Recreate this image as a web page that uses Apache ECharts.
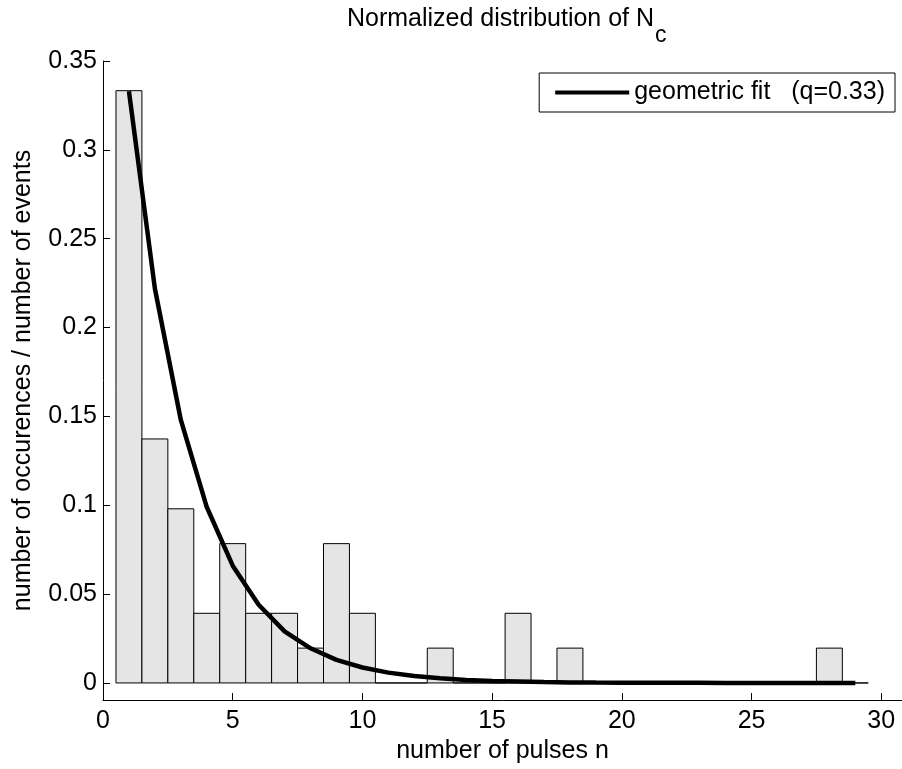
<!DOCTYPE html>
<html>
<head>
<meta charset="utf-8">
<script src="https://cdn.jsdelivr.net/npm/echarts@6/dist/echarts.min.js"></script>
<style>
  html, body { margin: 0; padding: 0; background: #fff; }
  #chart { width: 902px; height: 769px; }
</style>
</head>
<body>
<div id="chart"></div>
<script>
// histogram bins (number of pulses) and normalized counts
var bins = [1, 2, 3, 4, 5, 6, 7, 8, 9, 10, 11, 12, 13, 14, 15, 16, 17, 18, 19, 20, 21, 22, 23, 24, 25, 26, 27, 28, 29];
var counts = [0.3333, 0.1373, 0.0980, 0.0392, 0.0784, 0.0392, 0.0392, 0.0196, 0.0784, 0.0392,
              0, 0, 0.0196, 0, 0, 0.0392, 0, 0.0196, 0, 0,
              0, 0, 0, 0, 0, 0, 0, 0.0196, 0];
// geometric fit curve
var fitX = [1, 2, 3, 4, 5, 6, 7, 8, 9, 10, 11, 12, 13, 14, 15, 16, 17, 18, 19, 20, 21, 22, 23, 24, 25, 26, 27, 28, 29];
var fitY = [0.333, 0.222, 0.148, 0.099, 0.066, 0.044, 0.029, 0.0195, 0.013, 0.0087,
            0.0058, 0.0039, 0.0026, 0.0017, 0.0011, 0.0008, 0.0005, 0.0003, 0.0002, 0.00015,
            0.0001, 0.00007, 0.00005, 0.00003, 0.00002, 0.00001, 0.00001, 0.00001, 0];
var xTicks = [0, 5, 10, 15, 20, 25, 30];
var yTicks = [0, 0.05, 0.1, 0.15, 0.2, 0.25, 0.3, 0.35];

var FONT = 'Liberation Sans, Arial, sans-serif';
var FS = 25;

var myChart = echarts.init(document.getElementById('chart'));

var histData = bins.map(function (b, i) { return [b, counts[i]]; });
var fitData = fitX.map(function (x, i) { return [x, fitY[i]]; });

var option = {
    backgroundColor: '#fff',
    animation: false,
    textStyle: { fontFamily: FONT },
    graphic: [
        {
            type: 'text', left: 347, top: 7,
            style: { text: 'Normalized distribution of N', fontSize: FS, fontFamily: FONT, fill: '#000' }
        },
        {
            type: 'text', left: 655, top: 24,
            style: { text: 'c', fontSize: 23, fontFamily: FONT, fill: '#000' }
        }
    ],
    legend: {
        right: 7,
        top: 73,
        padding: [7, 10, 7, 16],
        borderColor: '#000',
        borderWidth: 1,
        icon: 'rect',
        itemWidth: 74,
        itemHeight: 4,
        itemGap: 9,
        textStyle: { fontSize: FS, color: '#000', fontFamily: FONT },
        data: ['geometric fit   (q=0.33)']
    },
    grid: {
        left: 103,
        top: 61,
        right: 0,
        bottom: 69,
        containLabel: false
    },
    xAxis: {
        type: 'value',
        min: 0,
        max: 30.8,
        name: 'number of pulses n',
        nameLocation: 'middle',
        nameGap: 35,
        nameTextStyle: { fontSize: FS, color: '#000', fontFamily: FONT },
        axisLine: { onZero: false, lineStyle: { color: '#000', width: 1 } },
        axisTick: { inside: true, length: 7, customValues: xTicks, lineStyle: { color: '#000' } },
        axisLabel: { customValues: xTicks, margin: 9, fontSize: FS, color: '#000', fontFamily: FONT },
        splitLine: { show: false }
    },
    yAxis: {
        type: 'value',
        min: -0.0096,
        max: 0.35,
        name: 'number of occurences / number of events',
        nameLocation: 'middle',
        nameGap: 67,
        nameTextStyle: { fontSize: FS, color: '#000', fontFamily: FONT },
        axisLine: { show: true, onZero: false, lineStyle: { color: '#000', width: 1 } },
        axisTick: { show: true, inside: true, length: 7, customValues: yTicks, lineStyle: { color: '#000' } },
        axisLabel: {
            customValues: yTicks, margin: 6, fontSize: FS, color: '#000', fontFamily: FONT,
            formatter: function (v) { return String(v); }
        },
        splitLine: { show: false }
    },
    series: [
        {
            name: 'histogram',
            type: 'custom',
            data: histData,
            encode: { x: 0, y: 1 },
            renderItem: function (params, api) {
                var x = api.value(0);
                var v = api.value(1);
                var p1 = api.coord([x - 0.5, v]);
                var p2 = api.coord([x + 0.5, 0]);
                return {
                    type: 'rect',
                    shape: { x: p1[0], y: p1[1], width: p2[0] - p1[0], height: p2[1] - p1[1] },
                    style: { fill: '#e5e5e5', stroke: '#000', lineWidth: 1 }
                };
            },
            z: 2
        },
        {
            name: 'geometric fit   (q=0.33)',
            type: 'line',
            data: fitData,
            symbol: 'none',
            lineStyle: { color: '#000', width: 4.5 },
            itemStyle: { color: '#000' },
            z: 3
        }
    ]
};

myChart.setOption(option);
window.addEventListener('resize', function () {
    myChart.resize();
});
</script>
</body>
</html>
